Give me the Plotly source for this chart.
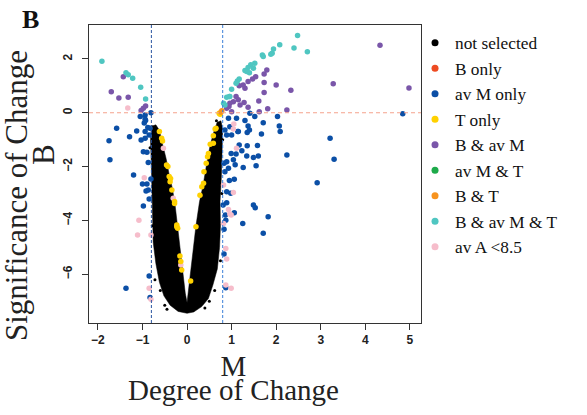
import plotly.graph_objects as go

# ---------------- data ----------------
# dense "not selected" cloud outline (M, B)
cloud_M = [-0.80, -0.82, -0.80, -0.78, -0.77, -0.76, -0.70, -0.62, -0.52, -0.38, -0.20, 0.00,
           0.15, 0.33, 0.48, 0.58, 0.68, 0.73, 0.75, 0.74, 0.77, 0.79, 0.80, 0.76, 0.68,
           0.62, 0.52, 0.44, 0.36, 0.28, 0.20, 0.13, 0.08, 0.03, 0.00,
           -0.04, -0.10, -0.14, -0.20, -0.27, -0.33, -0.40, -0.47, -0.56, -0.62, -0.70, -0.80]
cloud_B = [-0.50, -1.00, -2.00, -3.00, -4.00, -4.80, -5.60, -6.30, -6.80, -7.15, -7.38, -7.45,
           -7.40, -7.20, -6.90, -6.40, -5.80, -5.00, -4.20, -3.30, -2.40, -1.50, -0.60, -0.30, -0.35,
           -0.60, -1.20, -1.90, -2.70, -3.30, -4.20, -5.20, -6.00, -6.70, -7.05,
           -6.70, -5.90, -5.20, -4.40, -3.40, -2.80, -2.30, -1.70, -1.10, -0.65, -0.45, -0.50]

# scattered "not selected" points
ns_M = [-0.79, 0.70, -0.50, 0.50, -0.60, -0.72, 0.62, 0.75, -0.78, 0.78, -0.83, 0.80, -0.45, 0.40, 0.66]
ns_B = [-0.52, -0.40, -7.15, -7.00, -6.60, -6.20, -6.60, -5.50, -4.20, -3.00, -1.30, -1.00, -7.30, -7.25, -0.30]

avM_M = [-1.05, -0.94, -0.81, -0.93, -1.58, -1.13, -1.29, -1.75, -1.03, -0.94, -0.85, -0.98, -0.90,
         -1.73, -0.87, -1.20, -1.00, -0.90, -0.81, -0.92, -0.87, -0.85, -0.98, -0.85, -1.37, -0.83,
         -0.94, -0.96, -0.88, -0.94, -0.83,
         0.93, 1.11, 1.30, 1.41, 1.52, 1.71, 2.03, 2.07, 2.09, 1.37, 1.40, 1.15, 0.96, 0.85, 1.67,
         1.00, 3.21, 4.84, 3.30, 2.92, 1.35, 0.89, 1.35, 1.58, 1.17, 1.23, 0.99, 1.10, 1.34, 1.49,
         1.60, 1.04, 0.89, 1.08, 0.83, 1.55, 1.26, 0.93, 0.85, 1.06, 0.95, 0.89, 0.98, 1.49, 1.53,
         1.82, 1.06, 0.89, 0.86, 0.87, 1.25, 0.83, 1.71, 0.83, 0.87, 0.81, 2.24, 1.14]
avM_B = [-0.14, -0.08, 0.00, -0.29, -0.58, -0.68, -0.89, -1.04, -1.01, -0.95, -0.83, -1.45, -1.47,
         -1.75, -1.85, -2.31, -2.65, -2.65, -2.46, -2.91, -2.87, -3.20, -3.46, -6.06, -6.52, -6.86,
         -0.24, -0.38, -0.55, -0.70, -0.58,
         -0.20, -0.20, -0.29, -0.02, -0.14, -0.37, -0.14, -0.49, -0.70, -0.49, -0.64, -0.70, -0.52,
         -0.64, -0.79, -0.83, -0.95, -0.04, -1.73, -2.60, -0.73, -0.83, -1.23, -1.22, -1.20, -1.41,
         -1.51, -1.53, -1.61, -1.66, -1.61, -1.75, -1.82, -1.93, -1.88, -1.97, -2.03, -2.06, -2.19,
         -2.47, -2.52, -2.93, -2.99, -3.43, -3.53, -3.86, -3.71, -3.34, -3.80, -3.99, -4.11, -4.33,
         -4.48, -5.25, -6.50, -3.43, -1.57, -0.70]

T_M = [0.74, 0.63, -0.62, -0.57, -0.55, -0.46, -0.43, -0.40, -0.37, -0.38, -0.34, -0.28, -0.28,
       -0.23, -0.21, -0.23, -0.16, -0.14, -0.12, 0.20, 0.08, 0.72, 0.65, 0.59, 0.59, 0.52, 0.48,
       0.46, 0.43, 0.38, 0.37, 0.33, 0.29]
T_B = [-0.06, -0.60, -0.70, -0.95, -1.05, -1.94, -2.00, -2.37, -2.44, -2.56, -2.87, -3.30, -3.37,
       -4.17, -4.29, -4.23, -5.32, -5.53, -5.84, -4.23, -6.25, -0.02, -0.58, -0.85, -1.13, -1.17,
       -1.51, -1.63, -1.88, -2.19, -2.62, -2.75, -3.06]

BavM_M = [-1.43, -1.70, -1.53, -1.32, -1.03, -0.98, -0.93,
          1.79, 1.73, 1.54, 1.47, 1.37, 1.26, 1.17, 1.73, 2.00, 1.73, 2.33, 1.10, 1.15, 1.04,
          1.28, 1.61, 1.19, 0.96, 0.94, 1.37, 1.81, 1.62, 2.24, 0.89, 1.00, 4.33, 3.28, 4.98, 1.30]
BavM_B = [1.34, 0.78, 0.55, 0.58, 0.08, 0.17, 0.25,
          1.59, 1.44, 1.34, 1.25, 1.16, 1.03, 1.00, 1.12, 1.03, 0.75, 0.84, 0.60, 0.48, 0.41,
          0.38, 0.44, 0.29, 0.35, 0.23, 0.20, 0.15, 0.04, 0.10, 0.17, 0.04, 2.51, 1.08, 0.92, 0.91]

BT_M = [0.78, 0.76]
BT_B = [0.07, 0.02]

BavMT_M = [-1.91, -1.37, -1.32, -1.22, -1.04, -0.93,
           2.48, 2.08, 2.40, 2.70, 1.94, 1.91, 1.88, 1.69, 1.71, 1.52, 1.43, 1.37, 1.49, 1.30,
           1.40, 1.34, 1.17, 1.13, 1.10, 1.00, 0.95, 0.89, 0.85, 0.82, 0.96]
BavMT_B = [1.91, 1.49, 1.41, 1.28, 0.95, 0.51,
           2.87, 2.53, 2.41, 2.27, 2.37, 2.21, 2.17, 2.15, 2.09, 1.84, 1.78, 1.68, 1.65, 1.57,
           1.49, 1.53, 1.25, 1.18, 1.10, 0.87, 0.60, 0.58, 0.29, 0.35, 0.60]

lowA_M = [-1.33, -0.96, -1.08, -1.11, -0.81, -0.85, -0.81, -0.53, -0.31, -0.14,
          1.04, 0.93, 0.99, 0.82, 0.87, 0.89, 0.87, 0.99, 1.11, 0.82, 1.05, 1.04, 0.96]
lowA_B = [0.18, -2.41, -3.99, -4.54, -4.54, -6.52, -6.93, -1.32, -3.18, -5.66,
          -2.96, -3.59, -3.80, -4.11, -5.04, -5.43, -6.40, -6.52, -1.32, -2.68, -0.42, -0.60, -3.76]

legend_names = ["not selected", "B only", "av M only", "T only", "B & av M",
                "av M & T", "B & T", "B & av M & T", "av A <8.5"]
legend_colors = ["#000000", "#EE4B22", "#0B4FA6", "#FFD100", "#7A56A9",
                 "#1DAA4A", "#F7931E", "#4FC6C1", "#F6BDCB"]

M_threshold = 0.8
B_threshold = 0.0
x_ticks = [-2, -1, 0, 1, 2, 3, 4, 5]
y_ticks = [-6, -4, -2, 0, 2]

# ---------------- figure ----------------
fig = go.Figure()

fig.add_trace(go.Scatter(x=cloud_M, y=cloud_B, mode="lines", fill="toself",
                         fillcolor="#000000", line=dict(color="#000000", width=0.5),
                         showlegend=False, hoverinfo="skip"))
fig.add_trace(go.Scatter(x=ns_M, y=ns_B, mode="markers",
                         marker=dict(color="#000000", size=3), showlegend=False))

series = [
    (avM_M, avM_B, legend_colors[2]),
    (lowA_M, lowA_B, legend_colors[8]),
    (T_M, T_B, legend_colors[3]),
    (BavM_M, BavM_B, legend_colors[4]),
    (BT_M, BT_B, legend_colors[6]),
    (BavMT_M, BavMT_B, legend_colors[7]),
]
for xs, ys, c in series:
    fig.add_trace(go.Scatter(x=xs, y=ys, mode="markers",
                             marker=dict(color=c, size=5.5, line=dict(width=0)),
                             showlegend=False))

# legend entries
for name, c in zip(legend_names, legend_colors):
    fig.add_trace(go.Scatter(x=[None], y=[None], mode="markers", name=name,
                             marker=dict(color=c, size=7)))

dash_shapes = [
    dict(type="line", xref="x", yref="paper", x0=-M_threshold, x1=-M_threshold, y0=0, y1=1,
         line=dict(color="#2A55A0", width=1, dash="3px,2px")),
    dict(type="line", xref="x", yref="paper", x0=M_threshold, x1=M_threshold, y0=0, y1=1,
         line=dict(color="#3C7FD8", width=1, dash="3px,2px")),
    dict(type="line", xref="paper", yref="y", x0=0, x1=1, y0=B_threshold, y1=B_threshold,
         line=dict(color="#F5A28C", width=1, dash="4px,3px")),
]

serif = "Liberation Serif"
annotations = [
    # x-axis title: two lines set tight (line spacing taken from the small base size)
    dict(text='<span style="font-size:29px">M</span><br>'
              '<span style="font-size:29px">Degree of Change</span>',
         x=0.436, y=-0.084, xanchor="center", yanchor="top", align="center",
         font=dict(family=serif, size=18.8, color="#222222")),
    dict(text="Significance of Change", x=-0.2199, y=0.4295, textangle=-90,
         xanchor="center", yanchor="middle",
         font=dict(family=serif, size=31, color="#222222")),
    dict(text="B", x=-0.1386, y=0.567, textangle=-90, xanchor="center", yanchor="middle",
         font=dict(family=serif, size=31, color="#222222")),
    dict(text="<b>B</b>", x=-0.176, y=1.017, xanchor="center", yanchor="middle",
         font=dict(family=serif, size=26, color="#111111")),
]
for a in annotations:
    a.update(xref="paper", yref="paper", showarrow=False)

axis_common = dict(showline=True, linecolor="#333333", linewidth=1, mirror=True,
                   ticks="outside", ticklen=6, tickcolor="#333333", showgrid=False,
                   zeroline=False,
                   tickfont=dict(family="Liberation Sans", size=12, color="#222222", weight="bold"))

fig.update_layout(
    width=587, height=415,
    margin=dict(l=89, r=166, t=25, b=92),
    paper_bgcolor="white", plot_bgcolor="white",
    xaxis=dict(range=[-2.2, 5.25], tickvals=x_ticks, **axis_common),
    yaxis=dict(range=[-7.81, 3.26], tickvals=y_ticks, tickangle=-90, ticklabelstandoff=5,
               **axis_common),
    shapes=dash_shapes,
    annotations=annotations,
    legend=dict(x=0.982, y=1.0, xanchor="left", yanchor="top",
                font=dict(family=serif, size=17.3, color="#111111"),
                bgcolor="rgba(0,0,0,0)", tracegroupgap=0),
    showlegend=True,
)

fig.write_html("out.html")
